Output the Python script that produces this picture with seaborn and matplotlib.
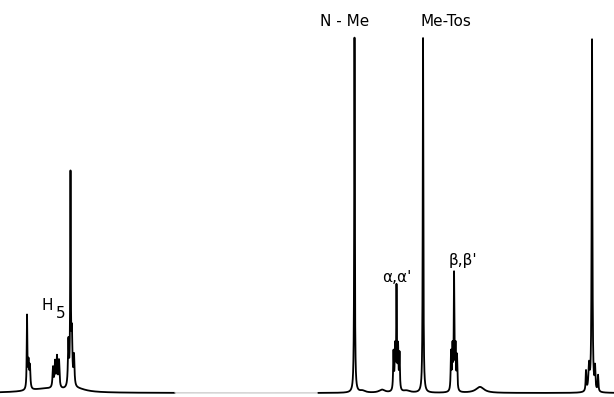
import numpy as np
import pandas as pd
import matplotlib
matplotlib.use("Agg")
import matplotlib.pyplot as plt
import seaborn as sns

# ---- data (chemical shift in ppm, intensity in arbitrary units) ----
# sharp lines
peak_ppm    = [0.000, 0.086, 0.043, -0.043, -0.086,   # TMS + satellites
               2.414,                                  # Me-Tos
               3.393,                                  # N-Me
               2.793, 2.836, 2.814, 2.771, 2.750,      # alpha,alpha'
               1.971, 2.014, 1.993, 1.950, 1.929,      # beta,beta'
               7.450, 7.480, 7.430, 7.400,             # H5
               8.071, 8.050, 8.030,                    # low-field line
               7.700, 7.671, 7.643, 7.614]             # multiplet
peak_height = [352,   20,    25,    22,     16,
               355,
               355,
               101,   38,    42,    42,    36,
               114,   38,    42,    42,    34,
               208,   45,    50,    30,
               72,    26,    22,
               20,    25,    30,    27]
peak_width  = [0.006, 0.006, 0.010, 0.006,  0.006,
               0.005,
               0.005,
               0.005, 0.006, 0.006, 0.006, 0.006,
               0.005, 0.006, 0.006, 0.006, 0.006,
               0.005, 0.008, 0.008, 0.008,
               0.005, 0.008, 0.008,
               0.008, 0.008, 0.008, 0.008]
# broad humps of the baseline
hump_ppm    = [1.600, 3.000, 3.280, 7.800, 7.350, 2.650]
hump_height = [6,     3,     2,     4,     3,     2]
hump_width  = [0.07,  0.05,  0.05,  0.30,  0.15,  0.06]

labels      = ["N - Me", "Me-Tos", "α,α'", "β,β'", "H", "5"]
label_ppm   = [3.529,    2.086,    2.786,  1.843,  7.786, 7.586]
label_int   = [372,      372,      115,    133,    88,    79]

# ---- build spectrum from the peak table ----
shift = np.linspace(8.7, -0.5, 24000)
inten = np.zeros_like(shift)
for p, h, w in zip(peak_ppm + hump_ppm, peak_height + hump_height, peak_width + hump_width):
    inten += h * w**2 / ((shift - p) ** 2 + w**2)
df = pd.DataFrame({"ppm": shift, "intensity": inten})
faint = (df["ppm"] < 5.96) & (df["ppm"] > 3.91)

sns.set_theme(style="white")
plt.rcParams["font.family"] = ["DejaVu Sans"]
fig = plt.figure(figsize=(6.14, 3.97), dpi=100)
ax = fig.add_axes([0, 0, 1, 1])
sns.lineplot(data=df[df["ppm"] >= 5.96], x="ppm", y="intensity", ax=ax, color="black",
             linewidth=1.3, estimator=None, sort=False)
sns.lineplot(data=df[faint], x="ppm", y="intensity", ax=ax, color="#c8c8c8",
             linewidth=0.9, estimator=None, sort=False)
sns.lineplot(data=df[df["ppm"] <= 3.91], x="ppm", y="intensity", ax=ax, color="black",
             linewidth=1.3, estimator=None, sort=False)
ax.set_xlim(8.457, -0.314)
ax.set_ylim(-4, 393)
ax.axis("off")

for t, x, y in zip(labels, label_ppm, label_int):
    ax.text(x, y, t, ha="center", va="center", fontsize=11, color="black")

fig.savefig("out.png", dpi=100, facecolor="white")
